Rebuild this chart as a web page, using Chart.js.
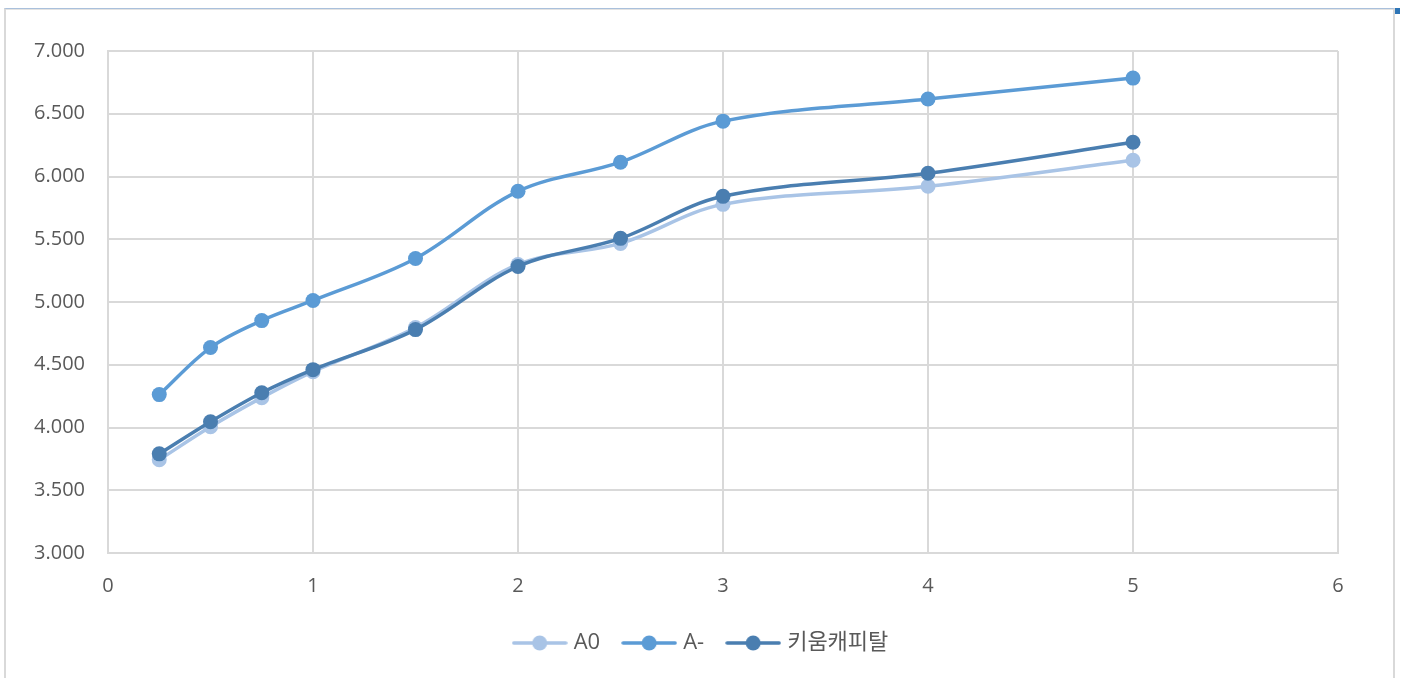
<!DOCTYPE html>
<html>
<head>
<meta charset="utf-8">
<script src="https://cdn.jsdelivr.net/npm/chart.js@4/dist/chart.umd.min.js"></script>
<style>
html,body{margin:0;padding:0;background:#fff;width:1405px;height:678px;overflow:hidden;}
#wrap{position:absolute;left:0;top:0;width:1405px;height:678px;}
#frame{position:absolute;left:4px;top:8px;width:1387px;height:690px;border-left:2px solid #d9d9d9;border-right:2px solid #d9d9d9;border-top:1px solid #a9c0dc;box-shadow:inset 0 1px 0 #e3e3e3;pointer-events:none;}
#mark{position:absolute;left:1395px;top:8px;width:5px;height:6px;background:#2e75b6;}
</style>
</head>
<body>
<div id="wrap"><canvas id="c" width="1405" height="678"></canvas></div>
<div id="frame"></div>
<div id="mark"></div>
<script>
const xValues = [0.25, 0.5, 0.75, 1, 1.5, 2, 2.5, 3, 4, 5];
const seriesNames = ['A0', 'A-', '키움캐피탈'];
const a0Values = [3.743, 4.006, 4.238, 4.445, 4.796, 5.299, 5.467, 5.778, 5.922, 6.130];
const aMinusValues = [4.262, 4.637, 4.852, 5.012, 5.347, 5.882, 6.114, 6.441, 6.617, 6.784];
const kiwoomValues = [3.790, 4.046, 4.277, 4.461, 4.780, 5.283, 5.507, 5.842, 6.026, 6.273];
const xTicks = [0, 1, 2, 3, 4, 5, 6];
const yTicks = [3.0, 3.5, 4.0, 4.5, 5.0, 5.5, 6.0, 6.5, 7.0];

const colors = ['#a9c4e6', '#5b9bd5', '#4a7eb0'];
const allValues = [a0Values, aMinusValues, kiwoomValues];
const orders = [2, 1, 0];

function legendImg(color){
  const cv = document.createElement('canvas');
  cv.width = 56; cv.height = 18;
  const g = cv.getContext('2d');
  g.strokeStyle = color; g.lineWidth = 3.5; g.lineCap = 'round';
  g.beginPath(); g.moveTo(2, 9); g.lineTo(54, 9); g.stroke();
  g.fillStyle = color;
  g.beginPath(); g.arc(28, 9, 7.5, 0, Math.PI*2); g.fill();
  return cv;
}
const legendImgs = colors.map(legendImg);

Chart.defaults.font.family = "'Open Sans', 'Noto Sans CJK KR', sans-serif";
Chart.defaults.font.size = 20;
Chart.defaults.color = '#595959';

const datasets = seriesNames.map((n, i) => ({
  label: n,
  data: xValues.map((x, j) => ({x: x, y: allValues[i][j]})),
  borderColor: colors[i],
  backgroundColor: colors[i],
  borderWidth: 3.5,
  pointRadius: 7.5,
  pointHoverRadius: 7.5,
  pointBorderWidth: 0,
  tension: 0.35,
  order: orders[i],
  fill: false
}));

new Chart(document.getElementById('c'), {
  type: 'line',
  data: { datasets },
  options: {
    responsive: false,
    animation: false,
    events: [],
    layout: { padding: { left: 0, right: 0, top: 51, bottom: 14 } },
    scales: {
      x: {
        type: 'linear', min: 0, max: 6,
        afterBuildTicks: s => { s.ticks = xTicks.map(v => ({value: v})); },
        afterFit: s => { s.height = 53; },
        grid: { color: '#d9d9d9', lineWidth: 2, drawTicks: false },
        border: { color: '#d9d9d9', width: 2 },
        ticks: { padding: 21, callback: v => String(v) }
      },
      y: {
        type: 'linear', min: 3, max: 7,
        afterBuildTicks: s => { s.ticks = yTicks.map(v => ({value: v})); },
        afterFit: s => { s.width = 108; },
        grid: { color: '#d9d9d9', lineWidth: 2, drawTicks: false },
        border: { color: '#d9d9d9', width: 2 },
        ticks: { padding: 23, callback: v => Number(v).toFixed(3) }
      },
      spacer: {
        type: 'linear', position: 'right', min: 0, max: 1,
        afterFit: s => { s.width = 67; },
        grid: { display: false, drawTicks: false },
        border: { display: false },
        ticks: { display: false }
      }
    },
    plugins: {
      tooltip: { enabled: false },
      legend: {
        position: 'bottom',
        labels: {
          usePointStyle: true,
          pointStyleWidth: 46,
          boxHeight: 18,
          padding: 26,
          color: '#595959',
          font: { size: 22 },
          sort: (a, b) => a.datasetIndex - b.datasetIndex,
          generateLabels: chart => {
            const items = Chart.defaults.plugins.legend.labels.generateLabels(chart);
            items.forEach(it => { it.pointStyle = legendImgs[it.datasetIndex]; });
            return items;
          }
        }
      }
    }
  }
});
</script>
</body>
</html>
